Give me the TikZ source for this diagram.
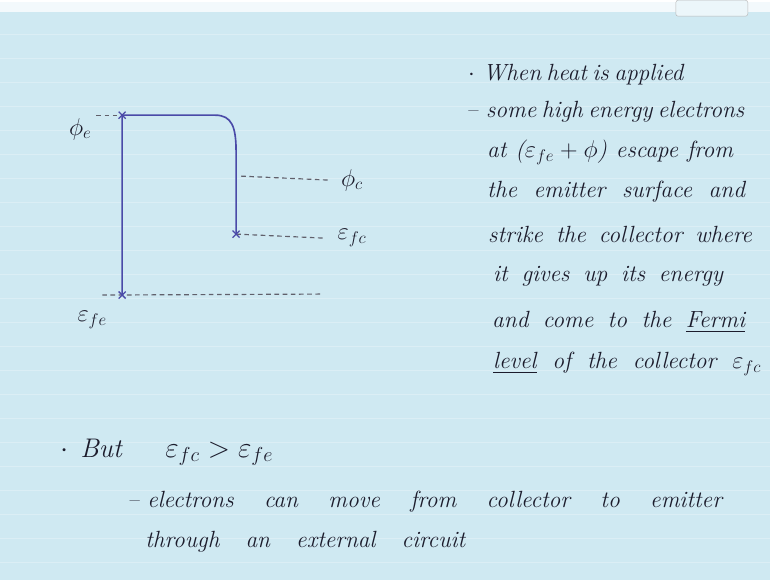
\documentclass[tikz,border=0pt]{standalone}
\usepackage{amsmath,amssymb}
\usepackage{xcolor}
\usetikzlibrary{calc}
\definecolor{board}{HTML}{CFE9F2}
\definecolor{ink}{HTML}{1C1C2C}
\definecolor{pen}{HTML}{4A4AA8}
\newlength\pxu
\setlength\pxu{0.03cm}
\newcommand\penline[2]{\makebox[#1\pxu][s]{#2}}
\tikzset{
  note/.style   ={anchor=west, text=ink, inner sep=0pt,
                  font=\fontsize{20}{22}\selectfont\itshape},
  sym/.style    ={text=ink, inner sep=0pt, font=\fontsize{21}{22}\selectfont},
  level/.style  ={draw=ink!70, dash pattern=on 4pt off 3pt, line width=1pt},
  band/.style   ={draw=pen, line width=1.4pt},
  cross/.style  ={pen, line width=1.1pt}
}
\begin{document}
\begin{tikzpicture}[x=0.03cm, y=-0.03cm]
% board
\fill[board] (0,0) rectangle (770,578);
\fill[white!75!board] (0,0) rectangle (770,10);
\foreach \g in {32,56,...,578} \draw[white!25!board, line width=0.4pt] (0,\g) -- (770,\g);
\draw[gray!55, rounded corners=2pt, fill=white!60!board] (676,-2) rectangle (748,14);
\useasboundingbox (0,0) rectangle (770,578);

% energy diagram
\coordinate (et) at (122,113);
\coordinate (eb) at (122,293);
\coordinate (ct) at (236,232);
\coordinate (phic) at (241,174);
\node[sym] (phie) at (80,127) {$\phi_e$};
\node[sym] (efe) at (92,318) {$\varepsilon_{fe}$};
\node[sym] (phicl) at (352,178) {$\phi_c$};
\node[sym] (efc) at (352,236) {$\varepsilon_{fc}$};

\draw[band] (eb) -- (et) -- (215,113) .. controls (232,113) and (236,125) .. (236,150) -- (ct);
\draw[level] ([xshift=-22]et) -- (et);
\draw[level] (phic) -- ([xshift=-10]phicl.west);
\draw[level] (ct) -- ([xshift=-12]efc.west);
\draw[level] ([xshift=-17]eb) -- (322,292);
\foreach \p in {et,eb,ct}
  \draw[cross] ($(\p)+(-3.5,-3.5)$) -- ($(\p)+(3.5,3.5)$) ($(\p)+(-3.5,3.5)$) -- ($(\p)+(3.5,-3.5)$);

% notes on the right
\node[note] (n0) at (468,72) {$\cdot$\ \penline{190}{When heat is applied}};
\node[note] (n1) at (466,110) {-- \penline{257}{some high energy electrons}};
\node[note] (n2) at (487,150) {\penline{246}{at ($\varepsilon_{fe}+\phi$) escape from}};
\node[note] (n3) at (487,190) {\penline{258}{the emitter surface and}};
\node[note] (n4) at (488,232) {\penline{264}{strike the collector where}};
\node[note] (n5) at (493,274) {\penline{230}{it gives up its energy}};
\node[note] (n6) at (492,320) {\penline{253}{and come to the \underline{Fermi}}};
\node[note] (n7) at (493,362) {\penline{268}{\underline{level} of the collector $\varepsilon_{fc}$}};

% conclusion
\node[note, font=\fontsize{23}{26}\selectfont\itshape] (b0) at (60,450)
  {\makebox[20\pxu][l]{$\cdot$}\makebox[85\pxu][l]{But}$\varepsilon_{fc} > \varepsilon_{fe}$};
\node[note] (b1) at (127,500) {-- \penline{575}{electrons can move from collector to emitter}};
\node[note] (b2) at (145,540) {\penline{320}{through an external circuit}};
\end{tikzpicture}
\end{document}
